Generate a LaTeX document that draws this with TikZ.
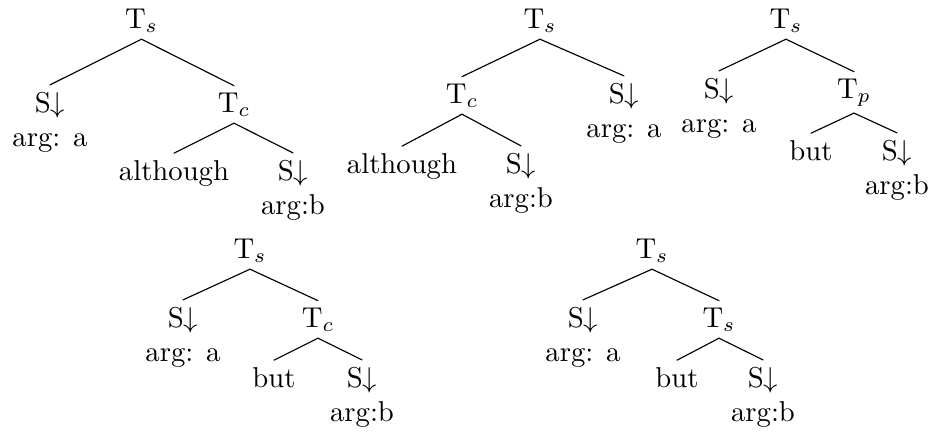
\documentclass[tikz,border=0pt]{standalone}
\usepackage{tikz}

\tikzset{
  cat/.style={anchor=base, inner sep=2.2pt},
  arglbl/.style={anchor=base, inner sep=0pt},
}

\begin{document}
\begin{tikzpicture}[x=0.3484pt,y=-0.3484pt,line cap=round,line join=round]
  \useasboundingbox (0,0) rectangle (932,435);

  % first tree: S and T_c with although
  \node[cat] (aR) at (141.5,28) {T$_s$};
  \node[cat] (aL) at (50,112) {S$\downarrow$};
  \node[cat] (aC) at (234,112) {T$_c$};
  \node[cat] (aW) at (174,180) {although};
  \node[cat] (aT) at (293,180) {S$\downarrow$};
  \node[arglbl] (aLa) at ([yshift=-12pt]aL.base) {arg: a};
  \node[arglbl] (aTa) at ([yshift=-12pt]aT.base) {arg:b};

  % second tree: T_c first
  \node[cat] (bR) at (540,28) {T$_s$};
  \node[cat] (bC) at (462,103) {T$_c$};
  \node[cat] (bS) at (624,103) {S$\downarrow$};
  \node[cat] (bW) at (402,173) {although};
  \node[cat] (bT) at (521,173) {S$\downarrow$};
  \node[arglbl] (bSa) at ([yshift=-12pt]bS.base) {arg: a};
  \node[arglbl] (bTa) at ([yshift=-12pt]bT.base) {arg:b};

  % third tree: T_p with but
  \node[cat] (cR) at (786,28) {T$_s$};
  \node[cat] (cS) at (719,98) {S$\downarrow$};
  \node[cat] (cP) at (854,98) {T$_p$};
  \node[cat] (cW) at (811,160) {but};
  \node[cat] (cT) at (897,160) {S$\downarrow$};
  \node[arglbl] (cSa) at ([yshift=-12pt]cS.base) {arg: a};
  \node[arglbl] (cTa) at ([yshift=-12pt]cT.base) {arg:b};

  % fourth tree: T_c with but
  \node[cat] (dR) at (250,258) {T$_s$};
  \node[cat] (dS) at (183,327) {S$\downarrow$};
  \node[cat] (dC) at (318,327) {T$_c$};
  \node[cat] (dW) at (274,387) {but};
  \node[cat] (dT) at (362,387) {S$\downarrow$};
  \node[arglbl] (dSa) at ([yshift=-12pt]dS.base) {arg: a};
  \node[arglbl] (dTa) at ([yshift=-12pt]dT.base) {arg:b};

  % fifth tree: T_s with but
  \node[cat] (eR) at (652,258) {T$_s$};
  \node[cat] (eS) at (583,327) {S$\downarrow$};
  \node[cat] (eC) at (719,327) {T$_s$};
  \node[cat] (eW) at (677,387) {but};
  \node[cat] (eT) at (763,387) {S$\downarrow$};
  \node[arglbl] (eSa) at ([yshift=-12pt]eS.base) {arg: a};
  \node[arglbl] (eTa) at ([yshift=-12pt]eT.base) {arg:b};

  % branches
  \foreach \p/\c in {aR/aL,aR/aC,aC/aW,aC/aT,
                     bR/bC,bR/bS,bC/bW,bC/bT,
                     cR/cS,cR/cP,cP/cW,cP/cT,
                     dR/dS,dR/dC,dC/dW,dC/dT,
                     eR/eS,eR/eC,eC/eW,eC/eT}{
    \draw (\p.south) -- (\c.north);
  }
\end{tikzpicture}
\end{document}
